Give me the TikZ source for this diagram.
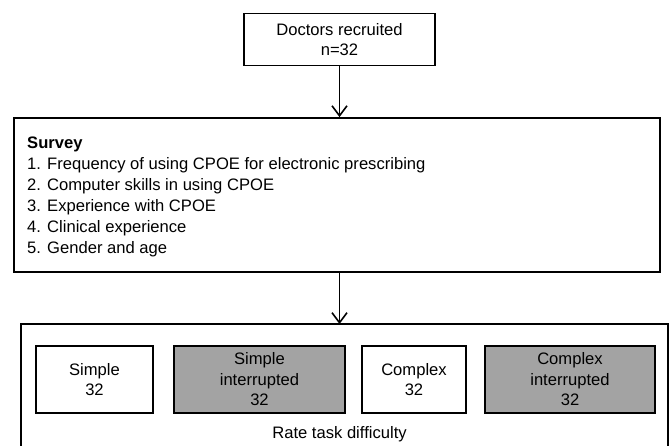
\documentclass[tikz,border=0pt]{standalone}
\usepackage{fontspec}
\setmainfont{Liberation Sans}
\usetikzlibrary{arrows.meta}
\definecolor{boxgray}{RGB}{163,163,163}
\begin{document}
\begin{tikzpicture}[x=1pt,y=-1pt,
  frame/.style={draw=black,line width=1.8pt,inner sep=0pt},
  txt/.style={font=\fontsize{16.6}{20.5}\selectfont,align=center},
  flowarrow/.style={draw=black,line width=1.6pt,-{Straight Barb[length=10pt,width=15pt,line width=1.6pt]}}]
\useasboundingbox (0,0) rectangle (670,445);
\clip (0,0) rectangle (670,445);
% top box
\node[frame,minimum width=191pt,minimum height=52pt,txt] (doc) at (339.5,39.5) {Doctors recruited\\n=32};
% survey box
\node[frame,minimum width=646pt,minimum height=154pt] (survey) at (337,195) {};
\node[anchor=north west,inner sep=0pt,align=left,font=\fontsize{16.6}{21}\selectfont] (surveytext) at (27,137)
 {\textbf{Survey}\\1. Frequency of using CPOE for electronic prescribing\\2. Computer skills in using CPOE\\3. Experience with CPOE\\4. Clinical experience\\5. Gender and age};
% outer box
\node[frame,minimum width=647pt,minimum height=140pt] (outer) at (344.5,394) {};
\coordinate (outertop) at (339.5,324);
% inner boxes
\node[frame,fill=white,minimum width=117pt,minimum height=67pt,txt] (simple) at (94.5,379.5) {Simple\\32};
\node[frame,fill=boxgray,minimum width=171pt,minimum height=67pt,txt] (simpleint) at (259.5,379.5) {Simple\\interrupted\\32};
\node[frame,fill=white,minimum width=104pt,minimum height=67pt,txt] (complex) at (414,379.5) {Complex\\32};
\node[frame,fill=boxgray,minimum width=170pt,minimum height=67pt,txt] (complexint) at (570,379.5) {Complex\\interrupted\\32};
\node[txt,inner sep=0pt] (rate) at (339.5,434) {Rate task difficulty};
% arrows
\draw[flowarrow] (doc.south) -- (survey.north -| doc.south);
\draw[flowarrow] (survey.south -| outertop) -- (outertop);
\end{tikzpicture}
\end{document}
